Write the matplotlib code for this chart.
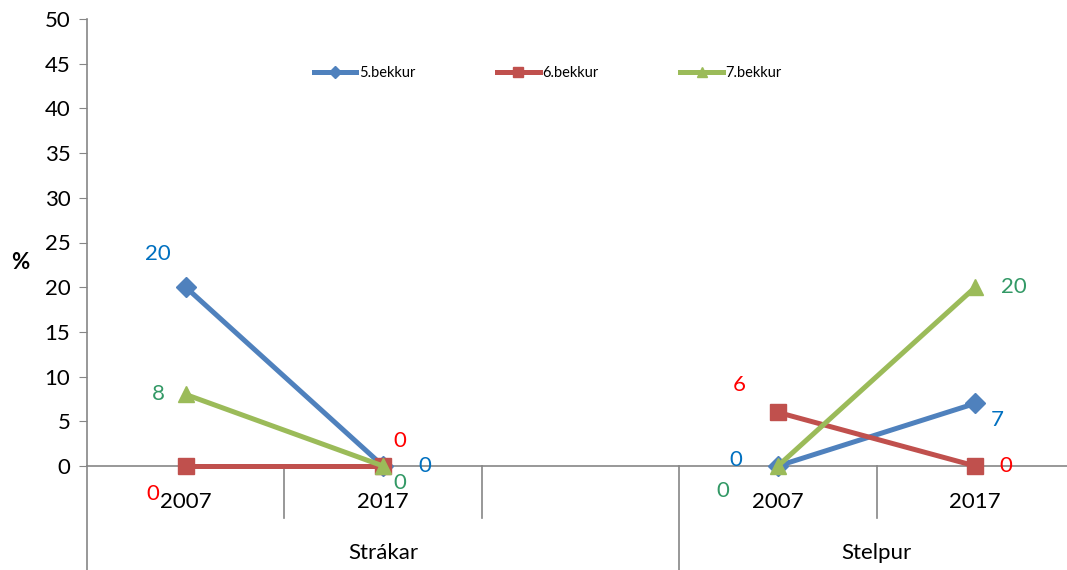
import matplotlib.pyplot as plt

plt.rcParams['font.family'] = ['Lato', 'DejaVu Sans']

# categories along the x axis (third slot is empty in the original)
years = ['2007', '2017', '', '2007', '2017']
groups = ['Strákar', 'Stelpur']
group_bounds = [(0, 3), (3, 5)]

series = ['5.bekkur', '6.bekkur', '7.bekkur']
b5 = [20, 0, None, 0, 7]
b6 = [0, 0, None, 6, 0]
b7 = [8, 0, None, 0, 20]

line_colors = ['#4F81BD', '#C0504D', '#9BBB59']
label_colors = ['#0070C0', '#FF0000', '#339966']
markers = ['D', 's', '^']
msizes = [10, 12, 12]

# label offsets (points) for each series, per category
offsets = [
    [(-20, 24), (30, 0), None, (-30, 4), (16, -12)],
    [(-24, -20), (12, 18), None, (-28, 20), (22, 0)],
    [(-20, 0), (12, -12), None, (-40, -18), (28, 0)],
]

fs = 16

fig = plt.figure(figsize=(10.67, 5.70), dpi=100)
ax = fig.add_axes([87 / 1067, 104 / 570, 987 / 1067, 447 / 570])

xs = list(range(len(years)))
for k, vals in enumerate([b5, b6, b7]):
    px = [x for x, v in zip(xs, vals) if v is not None]
    py = [v for v in vals if v is not None]
    for seg in [(0, 2), (2, 4)]:
        ax.plot(px[seg[0]:seg[1]], py[seg[0]:seg[1]], color=line_colors[k], lw=3.6,
                marker=markers[k], ms=msizes[k], clip_on=False, zorder=3,
                label=series[k] if seg[0] == 0 else None)
    for x, v in zip(px, py):
        ax.annotate(str(v), (x, v), xytext=offsets[k][x], textcoords='offset points',
                    ha='center', va='center', fontsize=fs, color=label_colors[k])

ax.set_xlim(-0.5, 4.5)
ax.set_ylim(0, 50)
ax.set_yticks(range(0, 51, 5))
ax.tick_params(axis='y', length=6, color='#868686', labelsize=fs, pad=6)
ax.set_xticks([])
for s in ['top', 'right']:
    ax.spines[s].set_visible(False)
ax.spines['left'].set_color('#868686')
ax.spines['bottom'].set_color('#868686')
ax.spines['bottom'].set_linewidth(1.2)
ax.spines['left'].set_linewidth(1.2)

ax.text(-0.068, 0.456, '%', transform=ax.transAxes, ha='center', va='center',
        fontsize=fs, fontweight='bold')

trans = ax.get_xaxis_transform()
for x, lab in zip(xs, years):
    ax.text(x, -0.08, lab, transform=trans, ha='center', va='center', fontsize=fs)
for (a, b), g in zip(group_bounds, groups):
    ax.text((a + b - 1) / 2, -0.194, g, transform=trans, ha='center', va='center', fontsize=fs)

group_edges = [a - 0.5 for a, b in group_bounds]
for e in range(len(years)):
    x = e - 0.5
    bottom = -0.235 if x in group_edges else -0.116
    ax.plot([x, x], [0, bottom], transform=trans, color='#868686', lw=1.2, clip_on=False)

ax.legend(loc='center', bbox_to_anchor=(0.467, 0.879), ncol=3, frameon=False,
          fontsize=10.5, handlelength=2.9, handletextpad=0.2, columnspacing=5.6,
          markerscale=0.6)

fig.savefig('out.png', dpi=100)
